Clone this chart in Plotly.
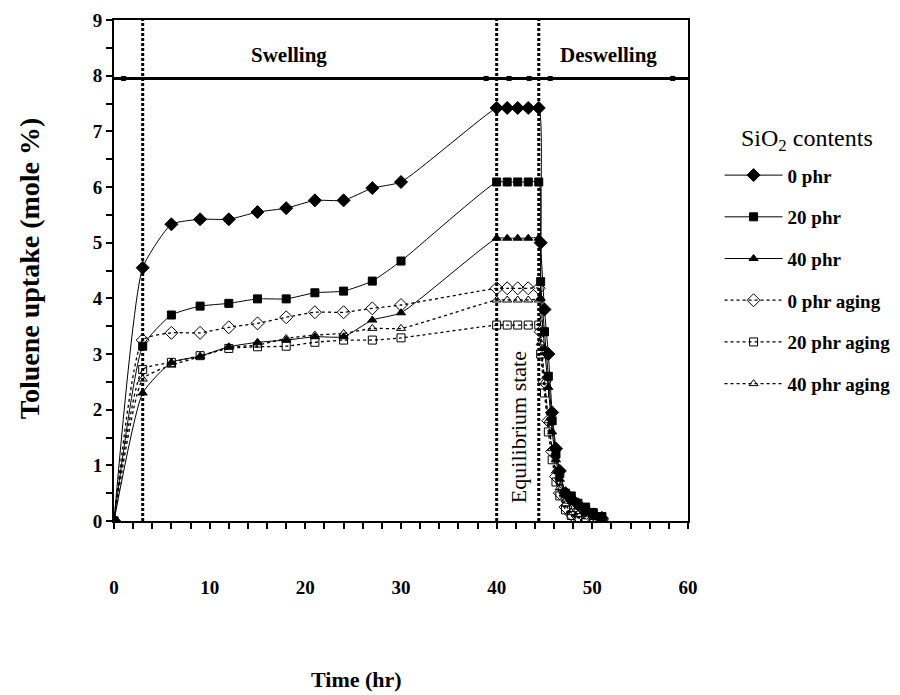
import plotly.graph_objects as go

# ---------------- data ----------------
time = [0, 3, 6, 9, 12, 15, 18, 21, 24, 27, 30, 40, 41.1, 42.2, 43.3, 44.4,
        44.6, 45.0, 45.4, 45.8, 46.2, 46.6, 47.2, 47.8, 48.5, 49.3, 50.1, 51.0]

phr0 = [0, 4.55, 5.33, 5.42, 5.42, 5.55, 5.62, 5.76, 5.76, 5.98, 6.09, 7.42, 7.42, 7.42, 7.42, 7.42,
        5.0, 3.8, 3.0, 1.95, 1.3, 0.9, 0.5, 0.4, 0.3, 0.2, 0.12, 0.05]
phr20 = [0, 3.14, 3.70, 3.86, 3.91, 3.99, 3.99, 4.10, 4.13, 4.31, 4.67, 6.09, 6.09, 6.09, 6.09, 6.09,
         4.3, 3.4, 2.6, 1.8, 1.2, 0.85, 0.5, 0.45, 0.32, 0.25, 0.15, 0.08]
phr40 = [0, 2.30, 2.85, 2.96, 3.13, 3.21, 3.25, 3.31, 3.31, 3.61, 3.74, 5.08, 5.08, 5.08, 5.08, 5.08,
         4.0, 3.1, 2.4, 1.6, 1.1, 0.75, 0.45, 0.35, 0.25, 0.18, 0.1, 0.05]
phr0_aging = [0, 3.25, 3.38, 3.38, 3.48, 3.55, 3.66, 3.75, 3.75, 3.82, 3.88, 4.18, 4.18, 4.18, 4.18, 4.18,
              3.4, 2.5, 1.8, 1.25, 0.8, 0.5, 0.25, 0.12, 0.08, 0.05, 0.03, 0.02]
phr20_aging = [0, 2.72, 2.85, 2.97, 3.10, 3.13, 3.14, 3.21, 3.25, 3.25, 3.29, 3.52, 3.52, 3.52, 3.52, 3.52,
               3.0, 2.3, 1.6, 1.1, 0.7, 0.45, 0.2, 0.1, 0.06, 0.04, 0.03, 0.02]
phr40_aging = [0, 2.55, 2.80, 2.95, 3.12, 3.16, 3.28, 3.34, 3.37, 3.46, 3.46, 3.97, 3.97, 3.97, 3.97, 3.97,
               3.2, 2.5, 1.8, 1.3, 0.9, 0.6, 0.3, 0.15, 0.12, 0.12, 0.12, 0.1]

series_names = ["0 phr", "20 phr", "40 phr", "0 phr aging", "20 phr aging", "40 phr aging"]
series_values = [phr0, phr20, phr40, phr0_aging, phr20_aging, phr40_aging]
series_symbols = ["diamond", "square", "triangle-up", "diamond-open", "square-open", "triangle-up-open"]

phase_boundaries = [3, 40, 44.4]          # vertical dotted lines
phase_line_level = 7.95                   # horizontal phase arrow line
phase_arrow_heads = [1.0, 38.9, 41.3, 43.4, 45.6, 58.4]
x_ticks = [0, 10, 20, 30, 40, 50, 60]
y_ticks = list(range(0, 10))

FONT = "Liberation Serif"

fig = go.Figure()

for name, vals, sym in zip(series_names, series_values, series_symbols):
    aging = "aging" in name
    fig.add_trace(go.Scatter(
        x=time, y=vals, name=name, legendgroup=name,
        mode="lines+markers",
        line=dict(color="black", width=1.3 if aging else 1,
                  dash="dot" if aging else "solid", shape="spline", smoothing=0.5),
        marker=dict(symbol=sym, size=10 if "diamond" in sym else 8, color="black",
                    line=dict(color="black", width=1)),
    ))

# horizontal phase line with arrow heads
fig.add_trace(go.Scatter(
    x=phase_arrow_heads, y=[phase_line_level] * len(phase_arrow_heads),
    mode="markers", marker=dict(symbol="square", size=5, color="black"),
    showlegend=False, hoverinfo="skip"))
fig.add_shape(type="line", x0=0, x1=60, y0=phase_line_level, y1=phase_line_level,
              line=dict(color="black", width=3), layer="below")

for xb in phase_boundaries:
    fig.add_shape(type="line", x0=xb, x1=xb, y0=0, y1=9,
                  line=dict(color="black", width=3, dash="3px,2px"))

fig.add_annotation(x=18.3, y=8.38, text="Swelling", showarrow=False,
                   font=dict(family=FONT, size=21, color="black", weight="bold"))
fig.add_annotation(x=51.7, y=8.38, text="Deswelling", showarrow=False,
                   font=dict(family=FONT, size=21, color="black", weight="bold"))
fig.add_annotation(x=42.3, y=1.68, text="Equilibrium state", showarrow=False, textangle=-90,
                   font=dict(family=FONT, size=22, color="black"))

# axis titles and legend title
fig.add_annotation(xref="paper", yref="paper", x=0.422, y=-0.317, xanchor="center", yanchor="middle",
                   text="Time (hr)", showarrow=False,
                   font=dict(family=FONT, size=22, color="black", weight="bold"))
fig.add_annotation(xref="paper", yref="paper", x=-0.146, y=0.505, xanchor="center", yanchor="middle",
                   text="Toluene uptake (mole %)", textangle=-90, showarrow=False,
                   font=dict(family=FONT, size=28, color="black", weight="bold"))
fig.add_annotation(xref="paper", yref="paper", x=1.208, y=0.760, xanchor="center", yanchor="middle",
                   text="SiO<sub>2</sub> contents", showarrow=False,
                   font=dict(family=FONT, size=24, color="black", weight="normal"))

axis_common = dict(showline=True, linecolor="black", linewidth=2, mirror=True,
                   ticks="outside", tickcolor="black", tickwidth=1.5, ticklen=6,
                   showgrid=False, zeroline=False, automargin=False,
                   tickfont=dict(family=FONT, size=19, color="black", weight="bold"))

fig.update_xaxes(range=[0, 60], tickvals=x_ticks, ticklabelstandoff=42,
                 minor=dict(dtick=2, ticks="outside", ticklen=6, tickcolor="black", tickwidth=1.5),
                 **axis_common)
fig.update_yaxes(range=[0, 9], tickvals=y_ticks,
                 minor=dict(dtick=0.5, ticks="outside", ticklen=6, tickcolor="black", tickwidth=1.5),
                 **axis_common)

fig.update_layout(
    width=900, height=695,
    margin=dict(l=106, r=218, t=12, b=182),
    paper_bgcolor="white", plot_bgcolor="white",
    legend=dict(x=1.055, y=0.728, xanchor="left", yanchor="top",
                font=dict(family=FONT, size=19, color="black", weight="bold"),
                tracegroupgap=14, itemwidth=58, bgcolor="rgba(0,0,0,0)"),
)

fig.write_html("out.html")
